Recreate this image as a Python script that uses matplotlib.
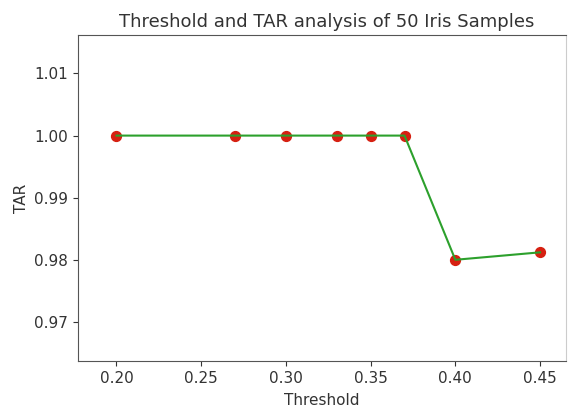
import matplotlib
matplotlib.use('Agg')
import matplotlib.pyplot as plt

thresholds = [0.20, 0.27, 0.30, 0.33, 0.35, 0.37, 0.40, 0.45]
tar = [1.00, 1.00, 1.00, 1.00, 1.00, 1.00, 0.98, 0.9812]
x_ticks = [0.20, 0.25, 0.30, 0.35, 0.40, 0.45]
y_ticks = [0.97, 0.98, 0.99, 1.00, 1.01]

fig = plt.figure(figsize=(5.74, 4.07), dpi=100)
ax = fig.add_axes([78 / 574, 1 - 361 / 407, (566 - 78) / 574, (361 - 35) / 407])

ax.scatter(thresholds, tar, color='#d62011', s=50, zorder=2)
ax.plot(thresholds, tar, color='#2ca02c', linewidth=1.5, zorder=3)

ax.set_xlim(0.1773, 0.4653)
ax.set_ylim(0.9637, 1.0162)
ax.set_xticks(x_ticks)
ax.set_yticks(y_ticks)
ax.set_xticklabels(['%.2f' % t for t in x_ticks])
ax.set_yticklabels(['%.2f' % t for t in y_ticks])
ax.tick_params(labelsize=11, colors='#333333')
for sp in ax.spines.values():
    sp.set_color('#555555')
ax.spines['right'].set_color('#cccccc')

ax.set_title('Threshold and TAR analysis of 50 Iris Samples', fontsize=13, color='#333333', x=0.51)
ax.set_xlabel('Threshold', fontsize=11, labelpad=5, color='#333333')
ax.set_ylabel('TAR', fontsize=11, color='#333333')

plt.savefig('out.png', dpi=100)
